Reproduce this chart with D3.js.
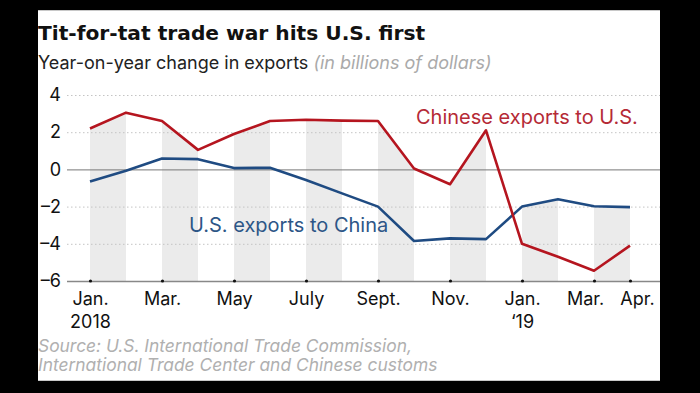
<!DOCTYPE html>
<html>
<head>
<meta charset="utf-8">
<script src="https://cdn.jsdelivr.net/npm/d3@7"></script>
<style>
  html, body { margin: 0; padding: 0; background: #000; }
  svg { display: block; }
  text { font-family: Inter, "Open Sans", sans-serif; }
</style>
</head>
<body>
<div id="chart"></div>
<script>
// months from Jan 2018 to Apr 2019
const months = ['Jan 18', 'Feb 18', 'Mar 18', 'Apr 18', 'May 18', 'Jun 18', 'Jul 18', 'Aug 18',
  'Sep 18', 'Oct 18', 'Nov 18', 'Dec 18', 'Jan 19', 'Feb 19', 'Mar 19', 'Apr 19'];
const chinaToUS = [2.2, 3.05, 2.6, 1.05, 1.9, 2.6, 2.67, 2.62, 2.6, 0.05, -0.8, 2.1, -4.0, -4.7, -5.45, -4.1];
const usToChina = [-0.65, -0.07, 0.59, 0.55, 0.07, 0.09, -0.57, -1.29, -2.0, -3.85, -3.71, -3.75, -2.0, -1.6, -1.98, -2.03];
const yTicks = [4, 2, 0, -2, -4, -6];
const xTickIdx = [0, 2, 4, 6, 8, 10, 12, 14, 15];
const xTickLabels = [['Jan.', '2018'], ['Mar.'], ['May'], ['July'], ['Sept.'], ['Nov.'], ['Jan.', '\u201819'], ['Mar.'], ['Apr.']];
const bandIdx = [0, 2, 4, 6, 8, 10, 12, 14];

const width = 700, height = 393;
const svg = d3.select('#chart').append('svg')
  .attr('width', width).attr('height', height);

// white card
svg.append('rect').attr('x', 38).attr('y', 10).attr('width', 622).attr('height', 371)
  .attr('fill', '#fff');
svg.append('line').attr('x1', 38).attr('x2', 660).attr('y1', 10.5).attr('y2', 10.5)
  .attr('stroke', '#c8c8c8');
svg.append('line').attr('x1', 38).attr('x2', 660).attr('y1', 380.5).attr('y2', 380.5)
  .attr('stroke', '#c8c8c8');

const x = d3.scaleLinear().domain([0, months.length - 1]).range([90, 630]);
const y = d3.scaleLinear().domain([-6, 4]).range([281, 95]);
const step = x(1) - x(0);

// title
svg.append('text').attr('x', 38).attr('y', 40)
  .style('font-family', '"DejaVu Sans", sans-serif')
  .style('font-size', '20.2px').style('font-weight', 'bold').attr('fill', '#111')
  .text('Tit-for-tat trade war hits U.S. first');
const sub = svg.append('text').attr('x', 38).attr('y', 69)
  .style('font-size', '18px').attr('fill', '#222');
sub.append('tspan').text('Year-on-year change in exports ');
sub.append('tspan').style('font-style', 'italic').attr('fill', '#aaa').text('(in billions of dollars)');

// bands: grey areas under the lines, clipped to alternate months
const clip = svg.append('clipPath').attr('id', 'bands');
clip.selectAll('rect').data(bandIdx).join('rect')
  .attr('x', d => x(d)).attr('width', step)
  .attr('y', y(4)).attr('height', y(-6) - y(4));

const area = d3.area().x((d, i) => x(i)).y0(y(-6)).y1(d => y(d));
const bandG = svg.append('g').attr('clip-path', 'url(#bands)');
[chinaToUS, usToChina].forEach(s => {
  bandG.append('path').attr('d', area(s)).attr('fill', '#ebebeb');
});

// gridlines
const yAxis = d3.axisLeft(y).tickValues(yTicks)
  .tickFormat(d => d < 0 ? '\u2013' + Math.abs(d) : d)
  .tickSize(0).tickPadding(6);
const gy = svg.append('g').attr('transform', 'translate(67,0)').call(yAxis);
gy.select('.domain').remove();
gy.selectAll('text').style('font-size', '18px').attr('fill', '#111')
  .attr('font-family', null);
gy.selectAll('.tick').append('line')
  .attr('x1', 0).attr('x2', 593)
  .attr('stroke', d => d === 0 ? '#777' : (d === -6 ? '#888' : '#c4c4c4'))
  .attr('stroke-width', d => d === -6 ? 1.6 : 1)
  .attr('stroke-dasharray', d => (d === 0 || d === -6) ? null : '1.5,2.5');

// x axis; the last two labels are pushed apart so they don't collide
const nudge = {14: -9, 15: 7};
const xAxis = d3.axisBottom(x).tickValues(xTickIdx).tickSize(0).tickFormat('');
const gx = svg.append('g').attr('transform', `translate(0,${y(-6)})`).call(xAxis);
gx.select('.domain').remove();
gx.selectAll('.tick').append('circle').attr('r', 1.6).attr('fill', '#111');
gx.selectAll('.tick').each(function(d, i) {
  const t = d3.select(this).append('text').attr('fill', '#111')
    .attr('text-anchor', 'middle').style('font-size', '18px');
  xTickLabels[i].forEach((l, j) => {
    t.append('tspan').attr('x', nudge[d] || 0).attr('y', 24 + j * 23).text(l);
  });
});

// lines
const line = d3.line().x((d, i) => x(i)).y(d => y(d));
svg.append('path').attr('d', line(usToChina)).attr('fill', 'none')
  .attr('stroke', '#1f4b82').attr('stroke-width', 2.6).attr('stroke-linejoin', 'round');
svg.append('path').attr('d', line(chinaToUS)).attr('fill', 'none')
  .attr('stroke', '#b5151f').attr('stroke-width', 2.6).attr('stroke-linejoin', 'round');

// line labels
svg.append('text').attr('x', 416).attr('y', 124).style('font-size', '20px')
  .attr('fill', '#b52a36').text('Chinese exports to U.S.');
svg.append('text').attr('x', 189).attr('y', 232).style('font-size', '20px')
  .attr('fill', '#2d5687').text('U.S. exports to China');

// source
const src = svg.append('text').attr('x', 38).attr('y', 352)
  .style('font-size', '17.4px').style('font-style', 'italic').attr('fill', '#b0b0b0');
src.append('tspan').attr('x', 38).text('Source: U.S. International Trade Commission,');
src.append('tspan').attr('x', 38).attr('dy', 19).text('International Trade Center and Chinese customs');
</script>
</body>
</html>
